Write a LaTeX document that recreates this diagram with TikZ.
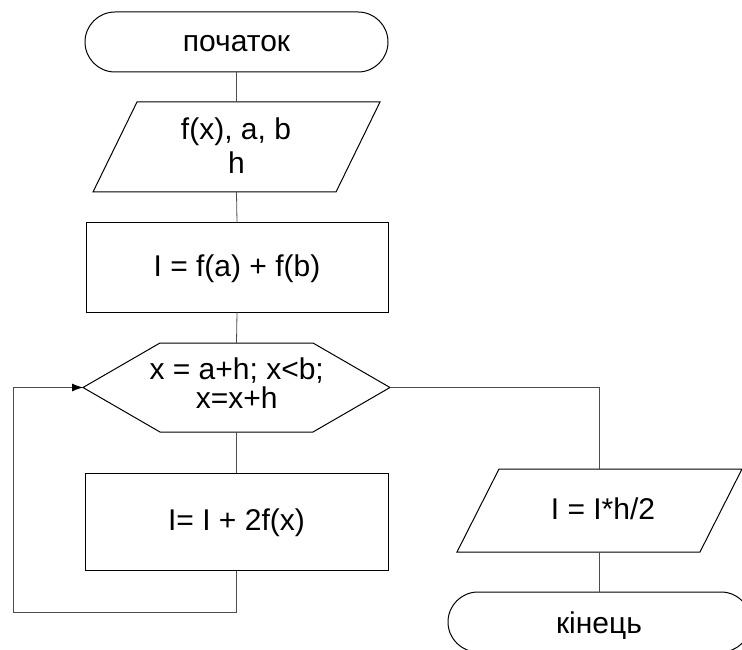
\documentclass[tikz,border=0pt]{standalone}
\usepackage{fontspec}
\setmainfont{Liberation Sans}
\usetikzlibrary{shapes.misc,arrows.meta}
\begin{document}
\begin{tikzpicture}[x=1pt,y=-1pt,
  shp/.style={line width=1pt,draw=black},
  frame/.style={draw=none,inner sep=0pt,outer sep=0pt,minimum width=#1},
  term/.style={shp,rounded rectangle,inner sep=0pt,outer sep=0pt,minimum width=303pt,minimum height=60pt},
  blk/.style={shp,rectangle,inner sep=0pt,outer sep=0pt},
  txt/.style={anchor=base,inner sep=0pt,font=\fontsize{30pt}{34pt}\selectfont},
  con/.style={line width=0.8pt,draw=black!70}]
\useasboundingbox (0,0) rectangle (742,650);
% shapes
\node[term] (start) at (236.5,42) {};
\node[frame=287pt,minimum height=90pt] (in1) at (236.5,147) {};
\draw[shp] ([xshift=44pt]in1.north west) -- (in1.north east) -- ([xshift=-44pt]in1.south east) -- (in1.south west) -- cycle;
\node[blk,minimum width=302pt,minimum height=89.5pt] (r1) at (237,267.5) {};
\node[frame=307pt,minimum height=89pt] (hex) at (236.5,387.5) {};
\draw[shp] (hex.west) -- ([xshift=77pt]hex.north west) -- ([xshift=-77pt]hex.north east) -- (hex.east) -- ([xshift=-77pt]hex.south east) -- ([xshift=77pt]hex.south west) -- cycle;
\node[blk,minimum width=303pt,minimum height=97.5pt] (r2) at (236.5,522) {};
\node[frame=285pt,minimum height=83pt] (out) at (599.5,510.5) {};
\draw[shp] ([xshift=42pt]out.north west) -- (out.north east) -- ([xshift=-42pt]out.south east) -- (out.south west) -- cycle;
\node[term] (end) at (599.5,622) {};
% texts
\node[txt] (t0) at (236.5,51.7) {початок};
\node[txt] (t1a) at (236,139.3) {f(x), a, b};
\node[txt] (t1b) at (236.5,173.3) {h};
\node[txt] (t2) at (237,276.7) {I = f(a) + f(b)};
\node[txt] (t3a) at (236.7,379) {x = a+h; x<b;};
\node[txt] (t3b) at (236.7,408) {x=x+h};
\node[txt] (t4) at (236.5,530) {I= I + 2f(x)};
\node[txt] (t5) at (603,519.3) {I = I*h/2};
\node[txt] (t6) at (599,633.3) {кінець};
% connectors
\coordinate (lb) at (236.5,612);
\coordinate (ll) at (13,612);
\coordinate (lt) at (13,387.5);
\coordinate (rc) at (599.5,387.5);
\draw[con] (start.south) -- (in1.north);
\draw[con] (in1.south) -- (r1.north);
\draw[con] (r1.south) -- (hex.north);
\draw[con] (hex.south) -- (r2.north);
\draw[con,-{Latex[length=11pt,width=8pt,black]}] (r2.south) -- (lb) -- (ll) -- (lt) -- (hex.west);
\draw[con] (hex.east) -- (rc) -- (out.north);
\draw[con] (out.south) -- (end.north);
\end{tikzpicture}
\end{document}
